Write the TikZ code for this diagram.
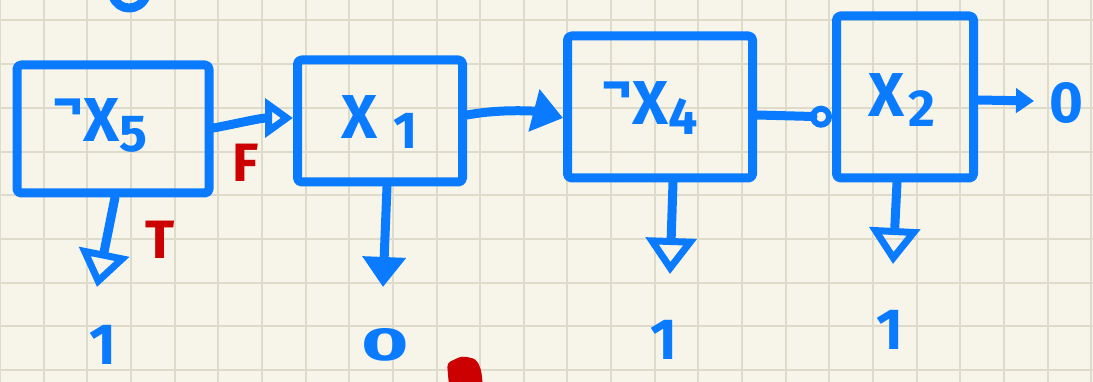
\documentclass[tikz,border=0pt]{standalone}
\usepackage{fontspec}
\setmainfont{Fira Sans}
\usetikzlibrary{arrows.meta}
\definecolor{paper}{HTML}{F7F5EA}
\definecolor{gridline}{HTML}{DEDBCB}
\definecolor{ink}{HTML}{0A7BFF}
\definecolor{redink}{HTML}{CC0000}
\tikzset{
  stroke/.style={draw=ink, line width=9pt, line cap=round, line join=round},
  gate/.style={stroke, rectangle, inner sep=0pt, rounded corners=4pt},
  var/.style={text=ink, font=\bfseries\fontsize{62}{64}\selectfont, inner sep=0pt},
  val/.style={text=ink, font=\bfseries\fontsize{58}{60}\selectfont, inner sep=0pt},
  flag/.style={text=redink, font=\bfseries\fontsize{54}{56}\selectfont, inner sep=0pt},
  openhead/.style={-{Triangle[open, length=36pt, width=50pt, line width=7pt]}},
  sidehead/.style={-{Triangle[open, length=28pt, width=38pt, line width=7pt]}},
  fullhead/.style={-{Triangle[length=30pt, width=42pt]}},
  smallhead/.style={-{Triangle[length=18pt, width=24pt]}},
  loophead/.style={-{Circle[open, length=22pt, width=22pt, line width=6pt]}},
}
\newcommand{\negmark}{\raisebox{20pt}{\fontsize{58}{58}\selectfont ¬}}
\newcommand{\idx}[1]{\raisebox{-10pt}{\fontsize{52}{52}\selectfont #1}}
\begin{document}
\begin{tikzpicture}[x=1pt, y=-1pt]
  % paper and grid
  \fill[paper] (0,0) rectangle (1093,382);
  \useasboundingbox (0,0) rectangle (1093,382);
  \foreach \k in {0,...,25} \draw[gridline, line width=2pt] (43.65*\k,0) -- (43.65*\k,382);
  \foreach \k in {0,...,8} \draw[gridline, line width=2pt] (0,20.5+43.7*\k) -- (1093,20.5+43.7*\k);

  % stroke cut off at the top edge
  \draw[stroke] (113,-4) .. controls (118,12) and (140,12) .. (146,-4);

  % gates
  \node[gate, minimum width=192pt, minimum height=128pt] (b1) at (113,129) {};
  \node[gate, minimum width=165pt, minimum height=122pt] (b2) at (380,121) {};
  \node[gate, minimum width=185pt, minimum height=142pt] (b3) at (660,107) {};
  \node[gate, minimum width=137pt, minimum height=162pt] (b4) at (905,97) {};

  % gate labels
  \node[var] (t1) at (100,125) {\negmark X\idx{5}};
  \node[var] (t2) at (380,122) {X\hspace{16pt}\idx{1}};
  \node[var] (t3) at (650,108) {\negmark X\idx{4}};
  \node[var] (t4) at (902,100) {X\hspace{4pt}\idx{2}};

  % chain between gates
  \draw[stroke, sidehead] ([yshift=1pt]b1.east) .. controls (235,124) and (260,118) .. ([yshift=3pt]b2.west);
  \draw[stroke, fullhead] ([yshift=6pt]b2.east) .. controls (505,108) and (540,112) .. ([yshift=-11pt]b3.west);
  \draw[stroke, loophead] ([yshift=-8pt]b3.east) -- ([yshift=-20pt]b4.west);
  \coordinate (e4) at (1034,101);
  \draw[stroke, smallhead] ([yshift=-3pt]b4.east) -- (e4);
  \node[val] (o4) at (1066,103) {0};

  % outputs below gates
  \coordinate (d1) at (97,287);
  \coordinate (d2) at (383,287);
  \coordinate (d3) at (670,274);
  \coordinate (d4) at (893,264);
  \draw[stroke, openhead] ([xshift=2pt]b1.south) -- (d1);
  \draw[stroke, fullhead] ([xshift=7pt]b2.south) -- (d2);
  \draw[stroke, openhead] ([xshift=13pt]b3.south) -- (d3);
  \draw[stroke, openhead] ([xshift=-8pt]b4.south) -- (d4);
  \node[val] (o1) at (103,345) {1};
  \node[val] (o2) at (385,345) {\scalebox{1.4}[0.8]{0}};
  \node[val] (o3) at (664,340) {1};
  \node[val] (o4b) at (890,330) {1};

  % branch flags
  \node[flag] (fF) at (246,163) {F};
  \node[flag] (fT) at (160,240) {T};

  % red mark at the lower edge
  \fill[redink, rounded corners=4pt] (447,363) -- (462,356) -- (476,359) -- (481,369) -- (483,386) -- (449,386) -- cycle;
\end{tikzpicture}
\end{document}
